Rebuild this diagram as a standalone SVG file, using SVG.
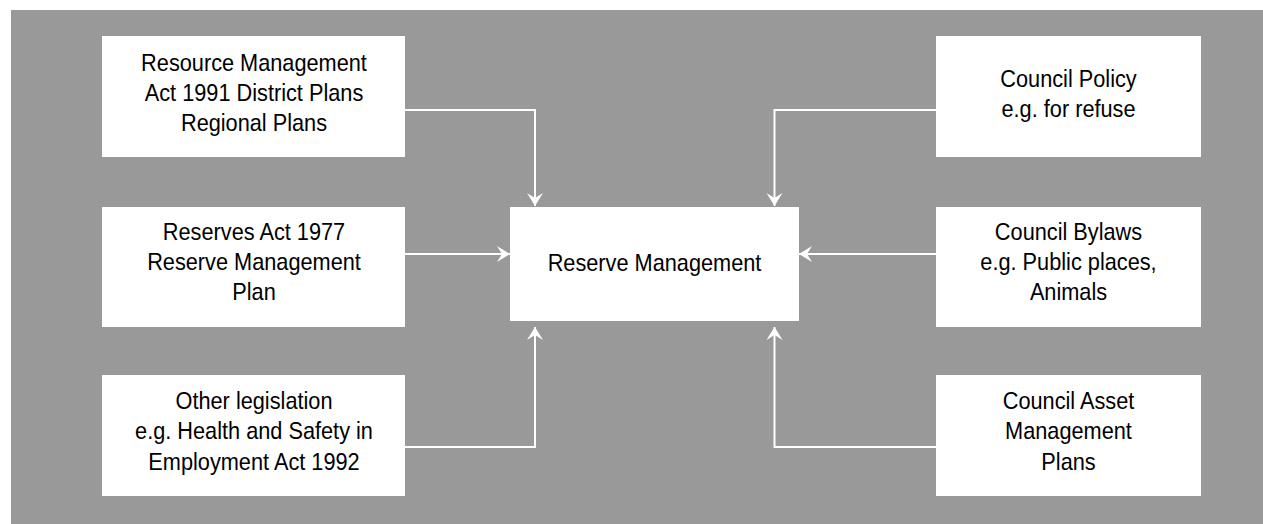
<svg xmlns="http://www.w3.org/2000/svg" width="1263" height="524" viewBox="0 0 1263 524">
<style>
.box{fill:#ffffff;}
.t{font-family:"Liberation Sans",Arial,sans-serif;font-size:24px;fill:#000000;text-anchor:middle;}
.c{fill:none;stroke:#ffffff;stroke-width:2;}
</style>
<defs>
<marker id="ah" viewBox="-14 -9 15 18" refX="0" refY="0" markerWidth="15" markerHeight="18" markerUnits="userSpaceOnUse" orient="auto">
<path d="M0,0 L-13,-8 L-8,0 L-13,8 Z" fill="#ffffff"/>
</marker>
</defs>
<rect x="0" y="0" width="1263" height="524" fill="#ffffff"/>
<rect x="11" y="10" width="1252" height="514" fill="#999999"/>
<g id="connectors">
<path class="c" d="M405,110 H535 V206" marker-end="url(#ah)"/>
<path class="c" d="M936,110 H774.5 V206" marker-end="url(#ah)"/>
<path class="c" d="M405,254 H510" marker-end="url(#ah)"/>
<path class="c" d="M936,254 H799" marker-end="url(#ah)"/>
<path class="c" d="M405,447 H535 V327" marker-end="url(#ah)"/>
<path class="c" d="M936,447 H774.5 V327" marker-end="url(#ah)"/>
</g>
<g id="rma">
<rect class="box" x="102" y="36" width="303" height="121"/>
<g transform="translate(254,0) scale(0.906,1)">
<text class="t" x="0" y="71">Resource Management</text>
<text class="t" x="0" y="101">Act 1991 District Plans</text>
<text class="t" x="0" y="131">Regional Plans</text>
</g>
</g>
<g id="reserves-act">
<rect class="box" x="102" y="207" width="303" height="120"/>
<g transform="translate(254,0) scale(0.906,1)">
<text class="t" x="0" y="240">Reserves Act 1977</text>
<text class="t" x="0" y="270">Reserve Management</text>
<text class="t" x="0" y="300">Plan</text>
</g>
</g>
<g id="other-legislation">
<rect class="box" x="102" y="375" width="303" height="121"/>
<g transform="translate(254,0) scale(0.906,1)">
<text class="t" x="0" y="409">Other legislation</text>
<text class="t" x="0" y="439">e.g. Health and Safety in</text>
<text class="t" x="0" y="470">Employment Act 1992</text>
</g>
</g>
<g id="reserve-management">
<rect class="box" x="510" y="207" width="289" height="114"/>
<g transform="translate(654.5,0) scale(0.906,1)">
<text class="t" x="0" y="271">Reserve Management</text>
</g>
</g>
<g id="council-policy">
<rect class="box" x="936" y="36" width="265" height="121"/>
<g transform="translate(1068.5,0) scale(0.906,1)">
<text class="t" x="0" y="87">Council Policy</text>
<text class="t" x="0" y="117">e.g. for refuse</text>
</g>
</g>
<g id="council-bylaws">
<rect class="box" x="936" y="207" width="265" height="120"/>
<g transform="translate(1068.5,0) scale(0.906,1)">
<text class="t" x="0" y="240">Council Bylaws</text>
<text class="t" x="0" y="270">e.g. Public places,</text>
<text class="t" x="0" y="300">Animals</text>
</g>
</g>
<g id="council-asset">
<rect class="box" x="936" y="375" width="265" height="121"/>
<g transform="translate(1068.5,0) scale(0.906,1)">
<text class="t" x="0" y="409">Council Asset</text>
<text class="t" x="0" y="439">Management</text>
<text class="t" x="0" y="470">Plans</text>
</g>
</g>
</svg>
